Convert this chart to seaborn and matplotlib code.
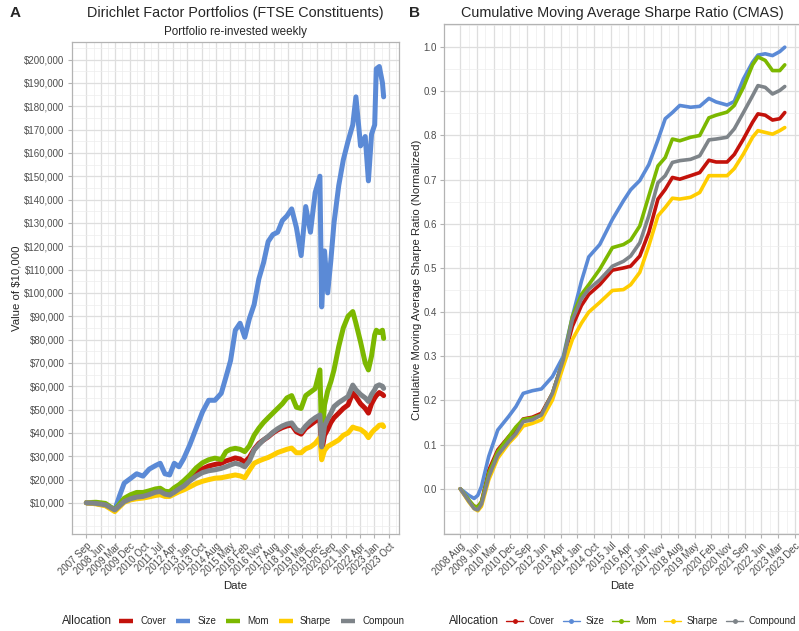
import matplotlib
matplotlib.use("Agg")
import matplotlib.pyplot as plt
import matplotlib.dates as mdates
from matplotlib.lines import Line2D
from matplotlib.ticker import FixedLocator, MultipleLocator, FuncFormatter
import seaborn as sns
import pandas as pd

# ---- data ----
allocations = ["Cover", "Size", "Mom", "Sharpe", "Compound"]
colors = ["#C3120B", "#5B8AD6", "#7CB800", "#FFCD00", "#7E8489"]

# Panel A: value of $10,000 (in $1,000)
value_dates = [
    "2007-09-10", "2008-03-15", "2008-09-15", "2009-03-15", "2009-06-15", "2009-09-15",
    "2010-01-15", "2010-05-15", "2010-09-15", "2011-01-15", "2011-05-15", "2011-08-15",
    "2011-11-15", "2012-02-15", "2012-05-15", "2012-08-15", "2012-11-15", "2013-03-15",
    "2013-07-15", "2013-11-15", "2014-03-15", "2014-07-15", "2014-11-15", "2015-02-15",
    "2015-05-15", "2015-08-15", "2015-11-15", "2016-02-15", "2016-05-15", "2016-08-15",
    "2016-11-15", "2017-02-15", "2017-05-15", "2017-08-15", "2017-11-15", "2018-02-15",
    "2018-05-15", "2018-08-15", "2018-11-15", "2019-02-15", "2019-05-15", "2019-08-15",
    "2019-11-15", "2020-02-15", "2020-03-20", "2020-05-15", "2020-07-15", "2020-09-15",
    "2020-11-15", "2021-02-15", "2021-05-15", "2021-08-15", "2021-11-15", "2022-01-15",
    "2022-04-15", "2022-07-15", "2022-09-15", "2022-11-15", "2023-01-15", "2023-02-15",
    "2023-04-15", "2023-06-15", "2023-07-08",
]
cover_value = [
    10.1, 9.9, 9.3, 7.0, 9.2, 11.0, 12.3, 13.2, 13.6, 14.3, 15.3, 15.6, 14.4, 14.0, 15.3,
    16.8, 18.2, 20.5, 23.0, 24.6, 25.8, 26.5, 27.0, 28.0, 28.6, 29.3, 28.8, 27.5, 29.6,
    33.0, 35.5, 37.0, 38.3, 40.0, 41.3, 42.3, 43.0, 43.4, 40.5, 39.5, 42.0, 43.5, 45.0,
    46.5, 32.0, 39.0, 41.5, 44.5, 46.5, 48.5, 50.5, 52.0, 57.2, 55.5, 52.5, 50.5, 48.5,
    52.5, 55.0, 56.0, 57.3, 56.5, 56.0,
]
size_value = [
    10.1, 9.8, 9.0, 7.0, 13.0, 18.5, 20.5, 22.5, 21.5, 24.5, 26.0, 27.0, 22.5, 22.0, 27.0,
    25.5, 29.0, 35.0, 42.0, 49.0, 54.0, 54.0, 57.0, 64.0, 71.0, 84.0, 87.0, 81.0, 89.0,
    95.0, 106.0, 113.0, 122.0, 125.0, 126.0, 131.0, 133.0, 136.0, 128.0, 116.0, 137.0,
    126.0, 143.0, 150.0, 94.0, 118.0, 100.0, 114.0, 130.0, 146.0, 157.0, 165.0, 172.0,
    184.0, 163.0, 167.0, 148.0, 168.0, 172.0, 196.0, 197.0, 190.0, 184.0,
]
mom_value = [
    10.1, 10.3, 9.8, 7.0, 9.5, 12.0, 13.5, 14.5, 14.5, 15.2, 16.0, 16.3, 15.0, 14.8, 16.5,
    17.8, 19.5, 22.0, 25.0, 27.2, 28.5, 29.2, 28.6, 32.0, 33.0, 33.4, 33.0, 32.0, 34.5,
    39.0, 42.0, 44.5, 46.5, 48.5, 50.5, 52.5, 55.0, 56.0, 51.0, 50.5, 56.0, 57.5, 59.0,
    67.0, 36.0, 52.0, 58.0, 62.0, 67.0, 77.0, 85.0, 90.0, 92.0, 87.0, 79.0, 70.0, 67.0,
    73.0, 82.0, 84.0, 83.0, 84.0, 80.5,
]
sharpe_value = [
    10.1, 9.6, 8.8, 6.3, 8.3, 10.3, 11.3, 11.8, 12.1, 12.6, 13.2, 13.5, 12.8, 12.8, 13.8,
    14.8, 15.6, 16.9, 18.3, 19.3, 20.0, 20.6, 20.8, 21.2, 21.6, 22.0, 21.6, 20.8, 24.0,
    27.0, 28.0, 28.8, 29.5, 30.5, 31.6, 32.3, 33.0, 33.5, 31.5, 31.5, 33.2, 34.0, 35.5,
    38.0, 28.5, 32.5, 34.2, 35.0, 35.8, 37.0, 39.0, 40.0, 42.5, 42.0, 41.5, 40.0, 38.0,
    40.0, 41.5, 42.0, 43.3, 43.5, 42.7,
]
compound_value = [
    10.1, 9.8, 9.2, 7.0, 8.8, 10.6, 11.8, 12.5, 12.8, 13.6, 14.6, 14.9, 13.8, 13.4, 14.6,
    16.0, 17.2, 19.5, 21.5, 23.0, 23.8, 24.2, 24.8, 25.5, 26.3, 27.0, 26.5, 25.5, 28.0,
    32.7, 35.0, 37.0, 38.5, 40.3, 41.8, 43.0, 43.8, 44.3, 41.5, 40.5, 43.0, 45.0, 46.5,
    47.7, 34.0, 43.0, 46.0, 48.5, 51.3, 53.0, 54.3, 55.6, 60.5, 58.5, 56.5, 55.0, 53.5,
    56.5, 58.5, 60.0, 60.6, 60.0, 59.1,
]

# Panel B: cumulative moving average Sharpe ratio (normalized)
cmas_dates = [
    "2008-08-25", "2009-01-15", "2009-04-15", "2009-06-15", "2009-08-15", "2009-12-15",
    "2010-05-15", "2010-11-15", "2011-03-15", "2011-07-15", "2011-12-15", "2012-05-15",
    "2012-11-15", "2013-05-15", "2013-10-15", "2014-03-15", "2014-07-15", "2015-01-15",
    "2015-08-15", "2016-02-15", "2016-06-15", "2016-11-15", "2017-04-15", "2017-09-15",
    "2018-01-15", "2018-05-15", "2018-09-15", "2019-03-15", "2019-08-15", "2020-01-15",
    "2020-05-15", "2020-11-15", "2021-03-15", "2021-08-15", "2022-01-15", "2022-04-15",
    "2022-08-15", "2022-12-15", "2023-04-15", "2023-07-08",
]
cover_cmas = [
    0.0, -0.027, -0.040, -0.041, -0.030, 0.042, 0.088, 0.118, 0.135, 0.158, 0.162, 0.171,
    0.216, 0.292, 0.368, 0.415, 0.440, 0.462, 0.495, 0.500, 0.504, 0.527, 0.580, 0.656,
    0.678, 0.705, 0.701, 0.709, 0.716, 0.744, 0.740, 0.740, 0.757, 0.792, 0.830, 0.849,
    0.846, 0.835, 0.838, 0.852,
]
size_cmas = [
    0.0, -0.015, -0.022, -0.015, 0.005, 0.073, 0.133, 0.164, 0.186, 0.216, 0.222, 0.226,
    0.254, 0.300, 0.390, 0.470, 0.525, 0.553, 0.610, 0.652, 0.677, 0.698, 0.734, 0.790,
    0.838, 0.852, 0.868, 0.864, 0.866, 0.884, 0.876, 0.869, 0.877, 0.928, 0.966, 0.982,
    0.985, 0.981, 0.990, 1.000,
]
mom_cmas = [
    0.0, -0.025, -0.040, -0.041, -0.030, 0.035, 0.084, 0.118, 0.140, 0.157, 0.160, 0.167,
    0.216, 0.292, 0.390, 0.440, 0.462, 0.497, 0.546, 0.553, 0.563, 0.595, 0.663, 0.731,
    0.750, 0.792, 0.788, 0.796, 0.800, 0.840, 0.846, 0.853, 0.868, 0.909, 0.960, 0.978,
    0.970, 0.947, 0.947, 0.960,
]
sharpe_cmas = [
    0.0, -0.030, -0.045, -0.050, -0.040, 0.020, 0.069, 0.103, 0.120, 0.142, 0.148, 0.156,
    0.201, 0.277, 0.338, 0.375, 0.400, 0.422, 0.449, 0.451, 0.462, 0.490, 0.550, 0.618,
    0.637, 0.658, 0.656, 0.660, 0.671, 0.709, 0.709, 0.709, 0.725, 0.758, 0.796, 0.811,
    0.807, 0.803, 0.811, 0.818,
]
compound_cmas = [
    0.0, -0.028, -0.045, -0.048, -0.035, 0.027, 0.076, 0.107, 0.125, 0.152, 0.156, 0.167,
    0.216, 0.292, 0.383, 0.430, 0.452, 0.473, 0.504, 0.515, 0.527, 0.557, 0.618, 0.693,
    0.709, 0.739, 0.743, 0.746, 0.754, 0.790, 0.792, 0.796, 0.815, 0.852, 0.890, 0.913,
    0.909, 0.894, 0.902, 0.911,
]

value_ticklabels = [
    "2007 Sep", "2008 Jun", "2009 Mar", "2009 Dec", "2010 Oct", "2011 Jul", "2012 Apr",
    "2013 Jan", "2013 Oct", "2014 Aug", "2015 May", "2016 Feb", "2016 Nov", "2017 Aug",
    "2018 Jun", "2019 Mar", "2019 Dec", "2020 Sep", "2021 Jun", "2022 Apr", "2023 Jan",
    "2023 Oct",
]
cmas_ticklabels = [
    "2008 Aug", "2009 Jun", "2010 Mar", "2010 Dec", "2011 Sep", "2012 Jun", "2013 Apr",
    "2014 Jan", "2014 Oct", "2015 Jul", "2016 Apr", "2017 Jan", "2017 Nov", "2018 Aug",
    "2019 May", "2020 Feb", "2020 Nov", "2021 Sep", "2022 Jun", "2023 Mar", "2023 Dec",
]

# ---- long frames for seaborn ----
value_series = [cover_value, size_value, mom_value, sharpe_value, compound_value]
cmas_series = [cover_cmas, size_cmas, mom_cmas, sharpe_cmas, compound_cmas]

value_df = pd.concat([
    pd.DataFrame({"Date": pd.to_datetime(value_dates), "Value": [v * 1000 for v in vals], "Allocation": name})
    for name, vals in zip(allocations, value_series)
])
cmas_df = pd.concat([
    pd.DataFrame({"Date": pd.to_datetime(cmas_dates), "CMAS": vals, "Allocation": name})
    for name, vals in zip(allocations, cmas_series)
])
palette = dict(zip(allocations, colors))

# ---- style ----
sns.set_style("white")
plt.rcParams["font.family"] = ["Liberation Sans", "DejaVu Sans"]

fig = plt.figure(figsize=(7.99, 6.31), dpi=100)
W, H = 799, 631
ax_a = fig.add_axes([71.5 / W, 1 - 534 / H, 327 / W, 492 / H])
ax_b = fig.add_axes([444 / W, 1 - 534 / H, 357 / W, 510 / H])

sns.lineplot(data=value_df, x="Date", y="Value", hue="Allocation", hue_order=allocations,
             palette=palette, linewidth=3.6, legend=False, ax=ax_a, sort=False)
sns.lineplot(data=cmas_df, x="Date", y="CMAS", hue="Allocation", hue_order=allocations,
             palette=palette, linewidth=2.6, legend=False, ax=ax_b, sort=False)


def style_axis(ax, dates, ticklabels):
    d = pd.to_datetime(dates)
    pad = (d.max() - d.min()) * 0.05
    ax.set_xlim(d.min() - pad, d.max() + pad)
    ticks = pd.date_range(d.min(), periods=len(ticklabels), freq="280D")
    ax.xaxis.set_major_locator(FixedLocator(mdates.date2num(ticks)))
    ax.xaxis.set_minor_locator(FixedLocator(mdates.date2num(ticks + pd.Timedelta(days=140))))
    ax.set_xticklabels(ticklabels, rotation=45, ha="right", rotation_mode="anchor")
    ax.grid(which="major", color="#DEDEDE", linewidth=0.9)
    ax.grid(which="minor", color="#EDEDED", linewidth=0.5)
    ax.set_axisbelow(True)
    for s in ax.spines.values():
        s.set_color("#B3B3B3")
        s.set_linewidth(0.9)
    ax.tick_params(which="major", length=3, color="#B3B3B3", labelcolor="#4D4D4D",
                   labelsize=7, pad=2, bottom=True, left=True)
    ax.tick_params(which="minor", length=0)
    ax.set_xlabel("")
    ax.set_ylabel("")


style_axis(ax_a, value_dates, value_ticklabels)
style_axis(ax_b, cmas_dates, cmas_ticklabels)

# y axes
ax_a.set_ylim(-3300, 207500)
ax_a.yaxis.set_major_locator(FixedLocator(list(range(10000, 200001, 10000))))
ax_a.yaxis.set_minor_locator(MultipleLocator(5000))
ax_a.yaxis.set_major_formatter(FuncFormatter(lambda v, p: f"${v:,.0f}"))

ax_b.set_ylim(-0.1025, 1.0525)
ax_b.yaxis.set_major_locator(FixedLocator([i / 10 for i in range(11)]))
ax_b.yaxis.set_minor_locator(MultipleLocator(0.05))
ax_b.yaxis.set_major_formatter(FuncFormatter(lambda v, p: f"{v:.1f}"))

# titles and labels
ax_a.annotate("Dirichlet Factor Portfolios (FTSE Constituents)", xy=(0.5, 1), xycoords="axes fraction",
              xytext=(0, 18), textcoords="offset points", ha="center", va="baseline", fontsize=10.4)
ax_a.annotate("Portfolio re-invested weekly", xy=(0.5, 1), xycoords="axes fraction",
              xytext=(0, 5), textcoords="offset points", ha="center", va="baseline", fontsize=8.4)
ax_b.annotate("Cumulative Moving Average Sharpe Ratio (CMAS)", xy=(0.5, 1), xycoords="axes fraction",
              xytext=(0, 5), textcoords="offset points", ha="center", va="baseline", fontsize=10.4)

fig.text(15 / W, 1 - 13 / H, "A", ha="center", va="center", fontsize=11, fontweight="bold")
fig.text(415 / W, 1 - 13 / H, "B", ha="center", va="center", fontsize=11, fontweight="bold")

fig.text(17 / W, 1 - 288 / H, "Value of $10,000", rotation=90, ha="center", va="center", fontsize=8.2)
fig.text(417 / W, 1 - 280 / H, "Cumulative Moving Average Sharpe Ratio (Normalized)", rotation=90,
         ha="center", va="center", fontsize=8.2)
fig.text(235 / W, 1 - 586 / H, "Date", ha="center", va="center", fontsize=8.2)
fig.text(622 / W, 1 - 586 / H, "Date", ha="center", va="center", fontsize=8.2)

# legends
leg_y = 1 - 621 / H
fig.text(62 / W, leg_y, "Allocation", ha="left", va="center", fontsize=8.3)
fig.text(449 / W, leg_y, "Allocation", ha="left", va="center", fontsize=8.3)

left_handles = [Line2D([], [], color=c, lw=3.2, solid_capstyle="butt") for c in colors]
fig.legend(left_handles, ["Cover", "Size", "Mom", "Sharpe", "Compoun"], loc="center left",
           bbox_to_anchor=(119 / W, leg_y), ncol=5, frameon=False, fontsize=7,
           handlelength=1.45, handletextpad=0.75, columnspacing=1.0, borderpad=0, borderaxespad=0)

right_handles = [Line2D([], [], color=c, lw=1.0, marker="o", markersize=2.5) for c in colors]
fig.legend(right_handles, allocations, loc="center left",
           bbox_to_anchor=(506 / W, leg_y), ncol=5, frameon=False, fontsize=7,
           handlelength=1.75, handletextpad=0.6, columnspacing=0.8, borderpad=0, borderaxespad=0)

fig.savefig("out.png", dpi=100)
